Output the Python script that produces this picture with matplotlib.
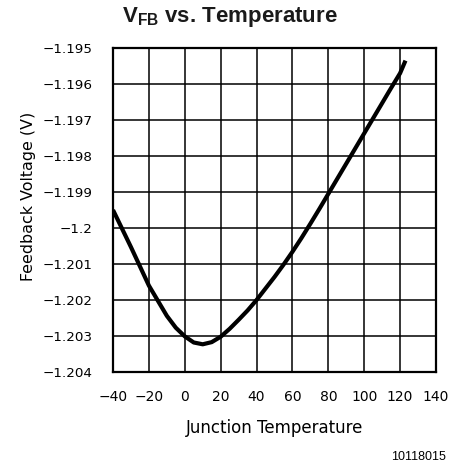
import matplotlib
matplotlib.use("Agg")
import matplotlib.pyplot as plt

plt.rcParams['mathtext.fontset'] = 'custom'
plt.rcParams['mathtext.rm'] = 'Liberation Sans:bold'
plt.rcParams['mathtext.bf'] = 'Liberation Sans:bold'
plt.rcParams['mathtext.it'] = 'Liberation Sans:bold'

temps = [-40, -30, -20, -10, -5, 0, 5, 10, 15, 20, 25, 30, 35, 40, 45, 50, 55, 60,
         65, 70, 75, 80, 85, 90, 95, 100, 105, 110, 115, 120, 123]
vfb = [-1.1995, -1.20053, -1.2016, -1.20244, -1.20277, -1.20301, -1.20318, -1.20323,
       -1.20317, -1.20302, -1.2028, -1.20255, -1.20229, -1.2020, -1.20168, -1.20136,
       -1.20102, -1.20066, -1.20028, -1.19988, -1.19947, -1.19905, -1.19863, -1.19821,
       -1.19779, -1.19737, -1.19695, -1.19653, -1.19611, -1.1957, -1.19535]

xticks = [-40, -20, 0, 20, 40, 60, 80, 100, 120, 140]
xticklabels = ["\u221240", "\u221220", "0", "20", "40", "60", "80", "100", "120", "140"]
yticks = [-1.195, -1.196, -1.197, -1.198, -1.199, -1.2, -1.201, -1.202, -1.203, -1.204]
yticklabels = ["\u22121.195", "\u22121.196", "\u22121.197", "\u22121.198", "\u22121.199",
               "\u22121.2", "\u22121.201", "\u22121.202", "\u22121.203", "\u22121.204"]

fig = plt.figure(figsize=(4.51, 4.67), dpi=100)
ax = fig.add_axes([0.2506, 0.2034, 0.7161, 0.6938])

ax.plot(temps, vfb, color='black', linewidth=3.0, solid_capstyle='butt',
        solid_joinstyle='round', zorder=3)

ax.set_xlim(-40, 140)
ax.set_ylim(-1.204, -1.195)
ax.set_xticks(xticks)
ax.set_xticklabels(xticklabels, fontsize=10, family='DejaVu Sans')
ax.set_yticks(yticks)
ax.set_yticklabels(yticklabels, fontsize=9.7, family='DejaVu Sans')
ax.tick_params(axis='both', length=0)
ax.tick_params(axis='y', pad=15)
ax.tick_params(axis='x', pad=13)
ax.grid(True, color='black', linewidth=1.1)
for s in ax.spines.values():
    s.set_linewidth(1.6)

ax.set_xlabel("Junction Temperature", fontsize=12, family='DejaVu Sans')
ax.xaxis.set_label_coords(0.5, -0.145)
ax.set_ylabel("Feedback Voltage (V)", fontsize=11.4, family='DejaVu Sans')
ax.yaxis.set_label_coords(-0.238, 0.543)

fig.text(0.51, 1 - 17 / 467, r"$\mathbf{V}_{\mathbf{FB}}$ vs. Temperature",
         ha='center', va='center', fontsize=16, family='Liberation Sans',
         fontweight='bold', color='#1a1a1a')
fig.text(446 / 451, 1 - 457 / 467, "10118015", ha='right', va='center',
         fontsize=9, family='Liberation Sans')

fig.savefig("out.png", dpi=100)
